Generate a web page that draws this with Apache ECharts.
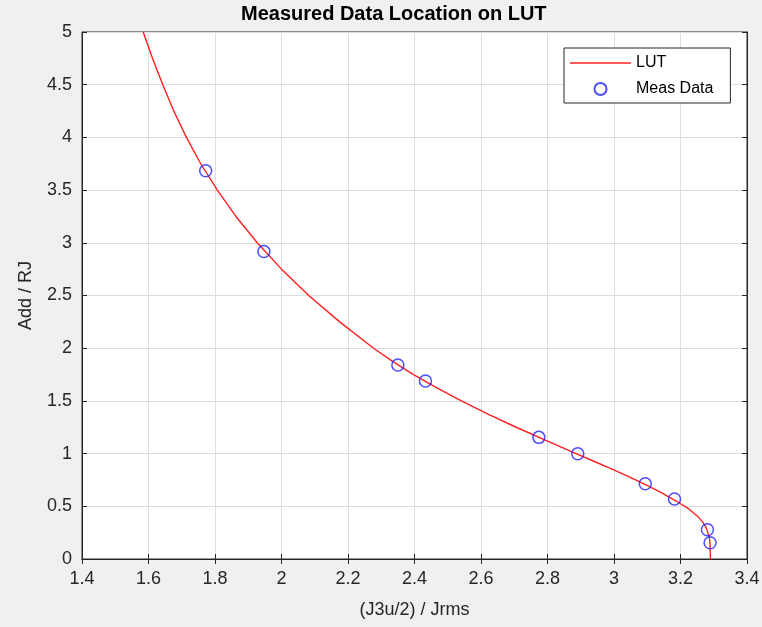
<!DOCTYPE html>
<html>
<head>
<meta charset="utf-8">
<script src="https://cdn.jsdelivr.net/npm/echarts@6/dist/echarts.min.js"></script>
<style>
html,body{margin:0;padding:0;background:#f0f0f0;}
#chart{width:762px;height:627px;}
</style>
</head>
<body>
<div id="chart"></div>
<script>
// LUT curve (x = (J3u/2)/Jrms, y = Add/RJ)
var lutX = [1.584, 1.612, 1.643, 1.676, 1.714, 1.757, 1.807, 1.863, 1.927, 2.000, 2.082, 2.175, 2.277, 2.334, 2.397, 2.466, 2.541, 2.621, 2.706, 2.795, 2.886, 2.941, 2.996, 3.049, 3.098, 3.145, 3.187, 3.225, 3.253, 3.267, 3.277, 3.282, 3.287, 3.2885, 3.289, 3.290];
var lutY = [5.0, 4.75, 4.5, 4.25, 4.0, 3.75, 3.5, 3.25, 3.0, 2.75, 2.5, 2.25, 2.0, 1.875, 1.75, 1.625, 1.5, 1.375, 1.25, 1.125, 1.0, 0.925, 0.85, 0.775, 0.7, 0.625, 0.55, 0.475, 0.4, 0.35, 0.3, 0.25, 0.2, 0.15, 0.1, 0.0];
// Measured data
var measX = [1.772, 1.947, 2.350, 2.433, 2.774, 2.891, 3.094, 3.182, 3.281, 3.289];
var measY = [3.684, 2.918, 1.841, 1.689, 1.154, 0.999, 0.714, 0.570, 0.278, 0.155];
var seriesNames = ['LUT', 'Meas Data'];
var titleText = 'Measured Data Location on LUT';
var xName = '(J3u/2) / Jrms';
var yName = 'Add / RJ';

var lutData = lutX.map(function (x, i) { return [x, lutY[i]]; });
var measData = measX.map(function (x, i) { return [x, measY[i]]; });

var axisCol = '#262626';
var font = 'Liberation Sans, Arial, Helvetica, sans-serif';

var chart = echarts.init(document.getElementById('chart'));
chart.setOption({
  backgroundColor: '#f0f0f0',
  animation: false,
  title: {
    text: titleText,
    left: 241, top: 4, padding: 0,
    textStyle: { fontSize: 20, fontWeight: 'bold', color: '#000', fontFamily: font }
  },
  legend: {
    data: [
      { name: seriesNames[0], icon: 'path://M0,0 L61,0 L61,1.6 L0,1.6 Z', itemStyle: { color: '#ff2020' } },
      { name: seriesNames[1] }
    ],
    orient: 'vertical',
    left: 564, top: 48,
    padding: [7, 17, 6, 6],
    itemWidth: 61, itemHeight: 12, itemGap: 10,
    backgroundColor: '#fff',
    borderColor: axisCol, borderWidth: 1, borderRadius: 0,
    textStyle: { fontSize: 16, color: '#000', fontFamily: font }
  },
  grid: {
    left: 82, right: 15, top: 32, bottom: 68,
    outerBoundsMode: 'none', containLabel: false,
    show: true, backgroundColor: '#fff', borderColor: axisCol, borderWidth: 1
  },
  xAxis: [{
    type: 'value', min: 1.4, max: 3.4, interval: 0.2,
    name: xName, nameLocation: 'middle', nameGap: 42,
    nameTextStyle: { fontSize: 18, color: axisCol, fontFamily: font },
    axisLine: { lineStyle: { color: axisCol, width: 1 } },
    axisTick: { inside: true, length: 5, lineStyle: { color: axisCol } },
    axisLabel: { fontSize: 18, color: axisCol, margin: 11, fontFamily: font,
      formatter: function (v) { return String(Math.round(v * 10) / 10); } },
    splitLine: { show: true, lineStyle: { color: '#dedede', width: 1 } }
  }, {
    type: 'value', min: 1.4, max: 3.4, interval: 0.2, position: 'top',
    axisLine: { show: true, lineStyle: { color: axisCol, width: 1 } },
    axisTick: { inside: true, length: 5, lineStyle: { color: axisCol } },
    axisLabel: { show: false }, splitLine: { show: false }
  }],
  yAxis: [{
    type: 'value', min: 0, max: 5, interval: 0.5,
    name: yName, nameLocation: 'middle', nameGap: 47,
    nameTextStyle: { fontSize: 18, color: axisCol, fontFamily: font },
    axisLine: { show: true, lineStyle: { color: axisCol, width: 1 } },
    axisTick: { show: true, inside: true, length: 5, lineStyle: { color: axisCol } },
    axisLabel: { fontSize: 18, color: axisCol, margin: 10, fontFamily: font },
    splitLine: { show: true, lineStyle: { color: '#dedede', width: 1 } }
  }, {
    type: 'value', min: 0, max: 5, interval: 0.5, position: 'right',
    axisLine: { show: true, lineStyle: { color: axisCol, width: 1 } },
    axisTick: { show: true, inside: true, length: 5, lineStyle: { color: axisCol } },
    axisLabel: { show: false }, splitLine: { show: false }
  }],
  series: [{
    name: seriesNames[0], type: 'line', data: lutData,
    xAxisIndex: 0, yAxisIndex: 0,
    symbol: 'none', showSymbol: false, smooth: false,
    lineStyle: { color: '#ff2020', width: 1.4 },
    itemStyle: { color: '#ff2020' },
    z: 2
  }, {
    name: seriesNames[1], type: 'scatter', data: measData,
    xAxisIndex: 0, yAxisIndex: 0,
    symbol: 'circle', symbolSize: 12,
    itemStyle: { color: 'rgba(0,0,0,0)', borderColor: '#2020ff', borderWidth: 1.5 },
    z: 3
  }]
});
</script>
</body>
</html>
